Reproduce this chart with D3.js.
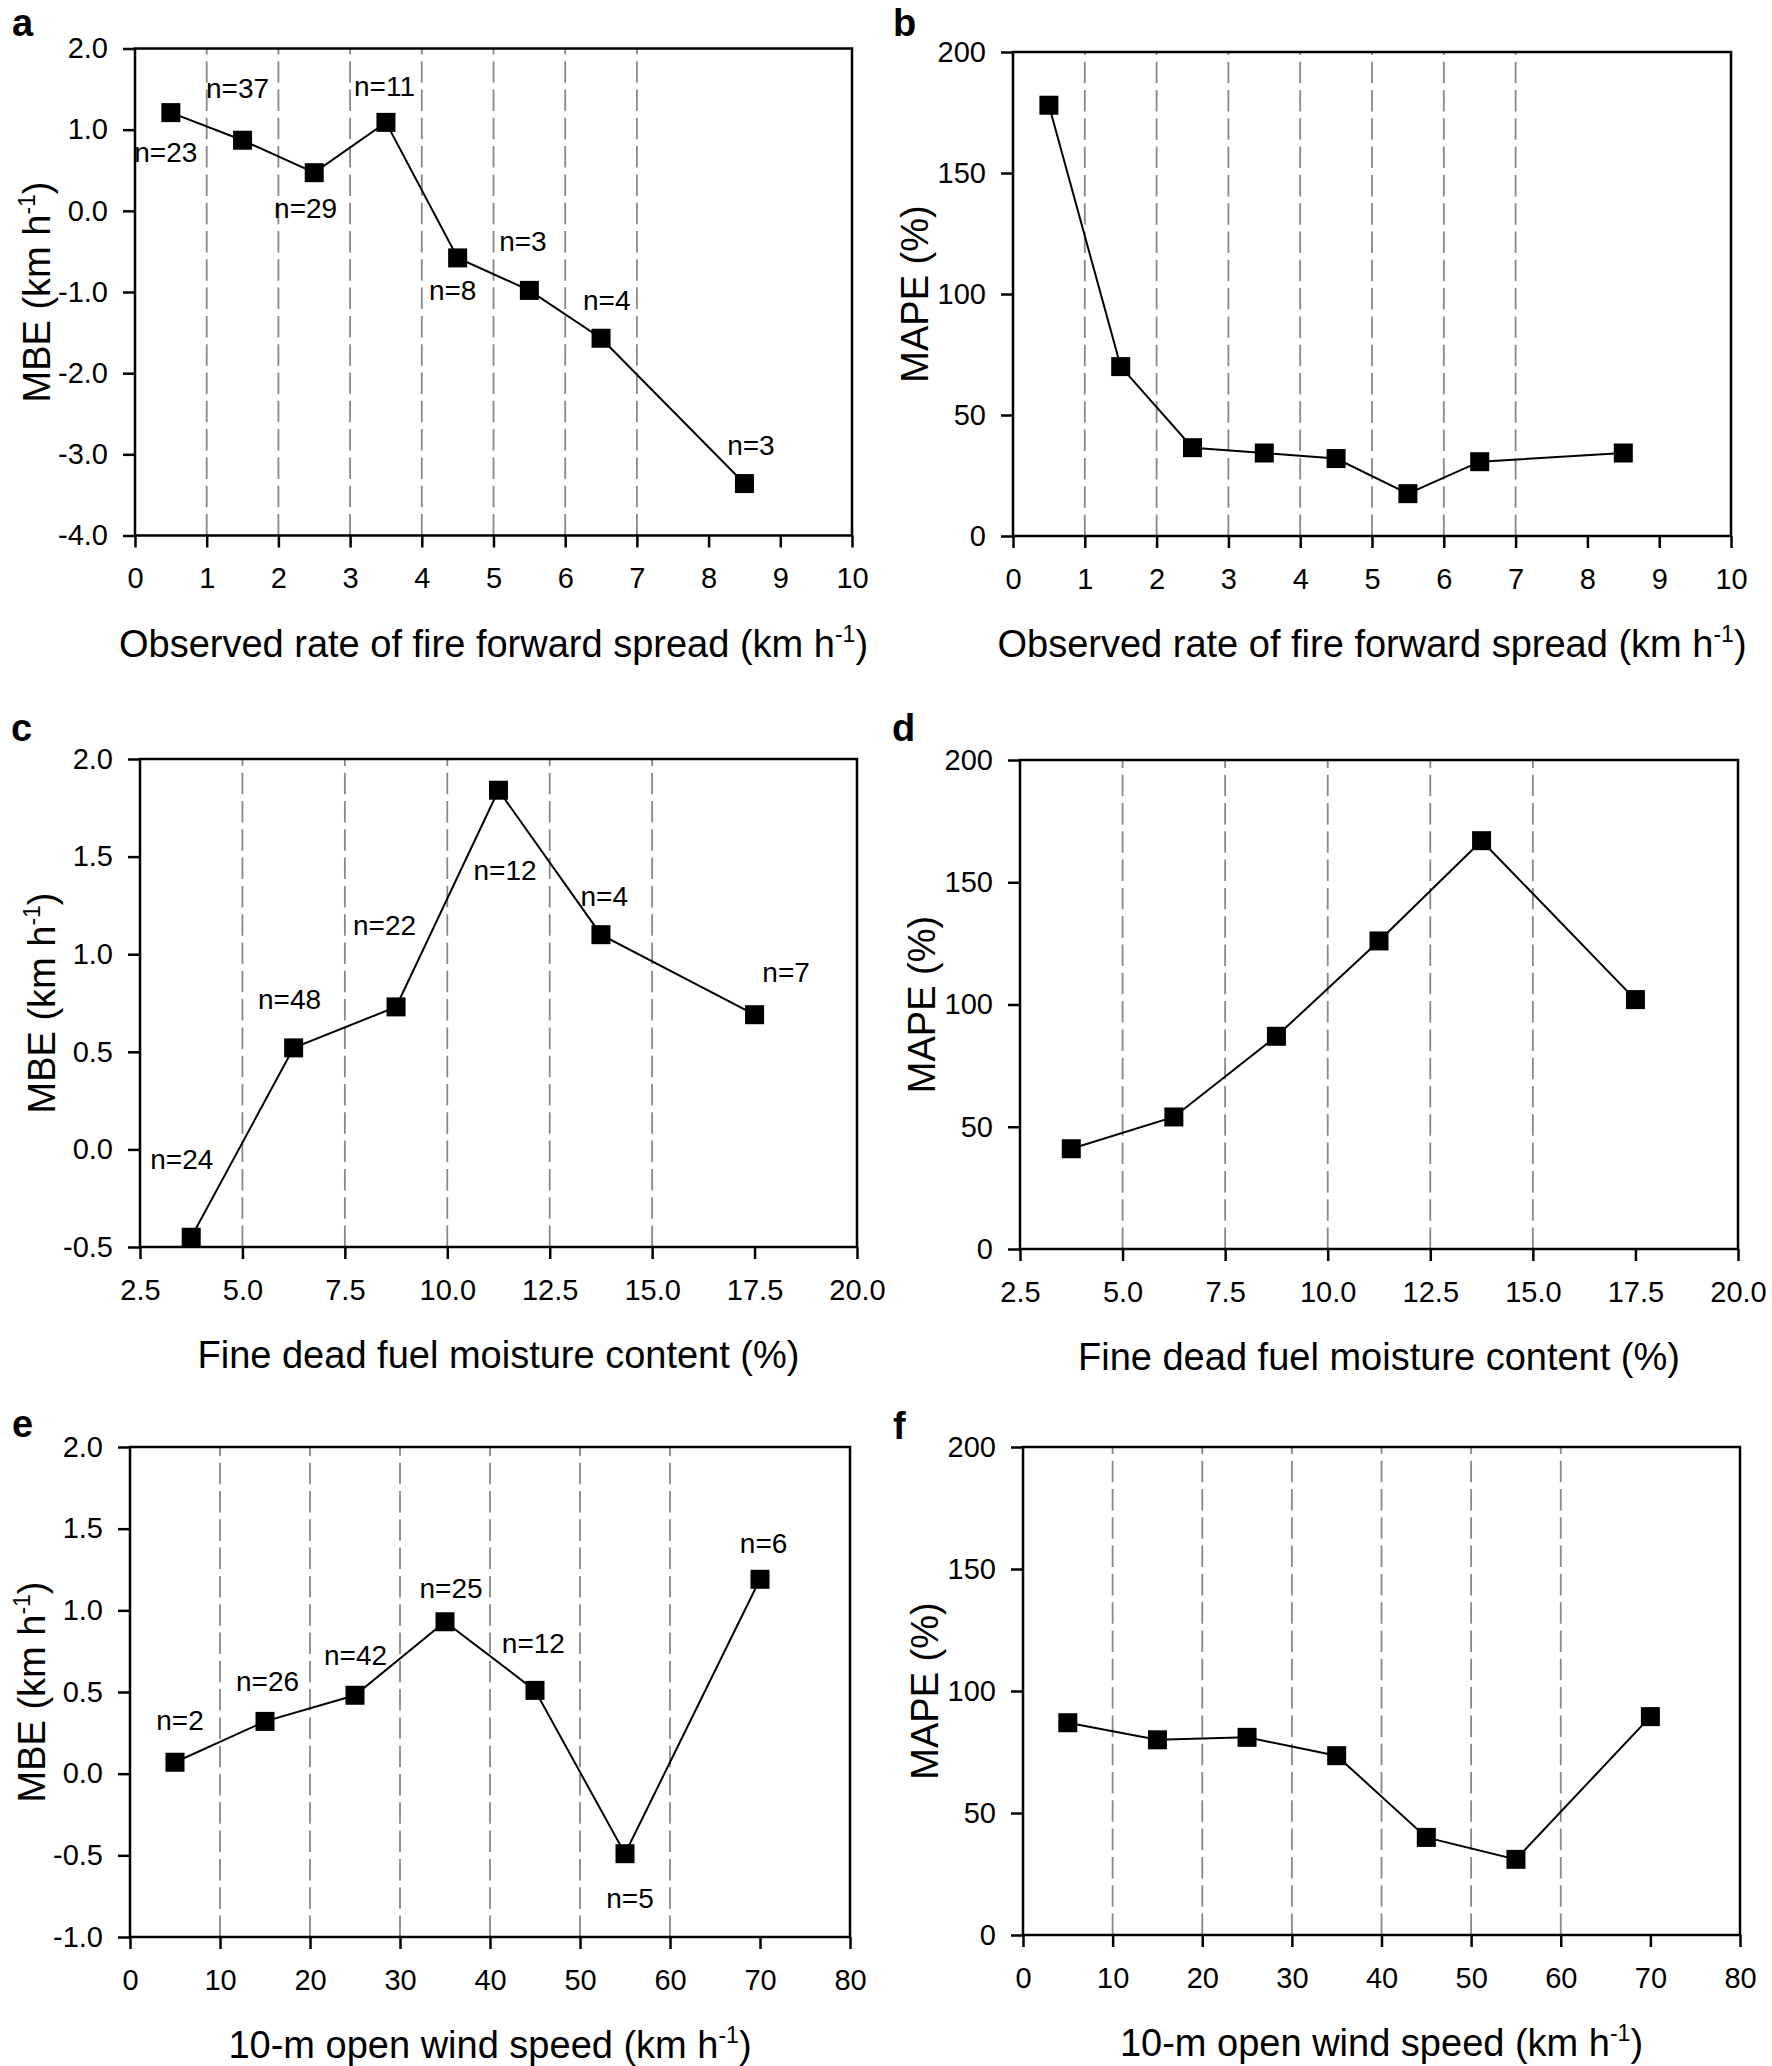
<!DOCTYPE html>
<html>
<head>
<meta charset="utf-8">
<script src="https://cdn.jsdelivr.net/npm/d3@7"></script>
<style>
  html, body { margin: 0; padding: 0; background: #fff; }
  svg { display: block; }
  text { font-family: "Liberation Sans", Arial, sans-serif; fill: #000; }
</style>
</head>
<body>
<svg id="chart" width="1772" height="2066"></svg>
<script>
// ---------------- DATA ----------------
// Observed rate of fire forward spread (km h-1) bins
const rosX    = [0.5, 1.5, 2.5, 3.5, 4.5, 5.5, 6.5, 8.5];
const rosMBE  = [1.21, 0.87, 0.47, 1.09, -0.58, -0.98, -1.57, -3.36];
const rosMAPE = [178, 70, 36.5, 34.3, 32, 17.5, 30.7, 34.3];
const rosN    = [23, 37, 29, 11, 8, 3, 4, 3];
// annotation anchors (data units) for the n= labels in panel a
const rosLabelX = [0.43, 1.43, 2.38, 3.48, 4.43, 5.41, 6.58, 8.59];
const rosLabelY = [0.72, 1.51, 0.04, 1.54, -0.98, -0.37, -1.10, -2.89];

// Fine dead fuel moisture content (%) bins
const fdfmcX    = [3.75, 6.25, 8.75, 11.25, 13.75, 17.5];
const fdfmcMBE  = [-0.45, 0.52, 0.73, 1.84, 1.10, 0.69];
const fdfmcMAPE = [41, 54, 87, 126, 167, 102];
const fdfmcN    = [24, 48, 22, 12, 4, 7];
const fdfmcLabelX = [3.52, 6.15, 8.47, 11.41, 13.83, 18.27];
const fdfmcLabelY = [-0.05, 0.77, 1.15, 1.43, 1.30, 0.91];

// 10-m open wind speed (km h-1) bins
const windX    = [5, 15, 25, 35, 45, 55, 70];
const windMBE  = [0.07, 0.32, 0.48, 0.93, 0.51, -0.49, 1.19];
const windMAPE = [87, 80, 81, 73.5, 40, 31, 89.5];
const windN    = [2, 26, 42, 25, 12, 5, 6];
const windLabelX = [5.56, 15.28, 25.06, 35.67, 44.82, 55.56, 70.4];
const windLabelY = [0.33, 0.57, 0.73, 1.14, 0.80, -0.76, 1.41];

// ticks and grid positions
const rosTicks    = [0, 1, 2, 3, 4, 5, 6, 7, 8, 9, 10];
const rosGrid     = [1, 2, 3, 4, 5, 6, 7];
const fdfmcTicks  = [2.5, 5, 7.5, 10, 12.5, 15, 17.5, 20];
const fdfmcGrid   = [5, 7.5, 10, 12.5, 15];
const windTicks   = [0, 10, 20, 30, 40, 50, 60, 70, 80];
const windGrid    = [10, 20, 30, 40, 50, 60];
const mbeTicksA   = [-4, -3, -2, -1, 0, 1, 2];
const mbeTicksC   = [-0.5, 0, 0.5, 1, 1.5, 2];
const mbeTicksE   = [-1, -0.5, 0, 0.5, 1, 1.5, 2];
const mapeTicks   = [0, 50, 100, 150, 200];

const xTitles = {
  ros: "Observed rate of fire forward spread (km h",
  fdfmc: "Fine dead fuel moisture content (%)",
  wind: "10-m open wind speed (km h"
};

// ---------------- LAYOUT ----------------
const layout = {
  a: {x0: 135,  x1: 852,  y0: 48.5, y1: 535.5, lx: 12,  ly: 36},
  b: {x0: 1013, x1: 1731, y0: 52,   y1: 536,   lx: 893, ly: 36},
  c: {x0: 140,  x1: 857,  y0: 759,  y1: 1247,  lx: 11,  ly: 741},
  d: {x0: 1020, x1: 1738, y0: 760,  y1: 1249,  lx: 892, ly: 741},
  e: {x0: 130,  x1: 850,  y0: 1447, y1: 1937,  lx: 12,  ly: 1437},
  f: {x0: 1023, x1: 1740, y0: 1447, y1: 1935,  lx: 893, ly: 1439}
};

const f1 = d => d.toFixed(1);
const f0 = d => String(d);

const panels = [
  {id: "a", xDom: [0, 10], yDom: [-4, 2], xs: rosX, ys: rosMBE, xt: rosTicks, yt: mbeTicksA, grid: rosGrid,
   xf: f0, yf: f1, xTitle: xTitles.ros, sup: true, yTitle: "MBE (km h", ySup: true,
   n: rosN, lx: rosLabelX, ly: rosLabelY},
  {id: "b", xDom: [0, 10], yDom: [0, 200], xs: rosX, ys: rosMAPE, xt: rosTicks, yt: mapeTicks, grid: rosGrid,
   xf: f0, yf: f0, xTitle: xTitles.ros, sup: true, yTitle: "MAPE (%)", ySup: false},
  {id: "c", xDom: [2.5, 20], yDom: [-0.5, 2], xs: fdfmcX, ys: fdfmcMBE, xt: fdfmcTicks, yt: mbeTicksC, grid: fdfmcGrid,
   xf: f1, yf: f1, xTitle: xTitles.fdfmc, sup: false, yTitle: "MBE (km h", ySup: true,
   n: fdfmcN, lx: fdfmcLabelX, ly: fdfmcLabelY},
  {id: "d", xDom: [2.5, 20], yDom: [0, 200], xs: fdfmcX, ys: fdfmcMAPE, xt: fdfmcTicks, yt: mapeTicks, grid: fdfmcGrid,
   xf: f1, yf: f0, xTitle: xTitles.fdfmc, sup: false, yTitle: "MAPE (%)", ySup: false},
  {id: "e", xDom: [0, 80], yDom: [-1, 2], xs: windX, ys: windMBE, xt: windTicks, yt: mbeTicksE, grid: windGrid,
   xf: f0, yf: f1, xTitle: xTitles.wind, sup: true, yTitle: "MBE (km h", ySup: true,
   n: windN, lx: windLabelX, ly: windLabelY},
  {id: "f", xDom: [0, 80], yDom: [0, 200], xs: windX, ys: windMAPE, xt: windTicks, yt: mapeTicks, grid: windGrid,
   xf: f0, yf: f0, xTitle: xTitles.wind, sup: true, yTitle: "MAPE (%)", ySup: false}
];

const svg = d3.select("#chart");
const TICK_FS = 29, N_FS = 28, TITLE_FS = 38, SUP_FS = 23, LETTER_FS = 38;
const MARK = 19;

panels.forEach(p => {
  const L = layout[p.id];
  const x = d3.scaleLinear().domain(p.xDom).range([L.x0, L.x1]);
  const y = d3.scaleLinear().domain(p.yDom).range([L.y1, L.y0]);
  const g = svg.append("g");

  // grid lines (drawn from bottom up so the dash pattern starts at the axis)
  g.selectAll(".grid").data(p.grid).join("line")
    .attr("x1", d => x(d)).attr("x2", d => x(d))
    .attr("y1", L.y1).attr("y2", L.y0)
    .attr("stroke", "#888").attr("stroke-width", 1.8)
    .attr("stroke-dasharray", "21.5,6.8");

  // axes
  const ax = g.append("g").attr("transform", `translate(0,${L.y1})`)
    .call(d3.axisBottom(x).tickValues(p.xt).tickFormat(p.xf).tickSize(12).tickSizeOuter(0).tickPadding(20));
  const ay = g.append("g").attr("transform", `translate(${L.x0},0)`)
    .call(d3.axisLeft(y).tickValues(p.yt).tickFormat(p.yf).tickSize(12).tickSizeOuter(0).tickPadding(15));
  [ax, ay].forEach(a => {
    a.select(".domain").remove();
    a.selectAll("line").attr("stroke", "#000").attr("stroke-width", 2.5);
    a.selectAll("text").attr("font-size", TICK_FS).attr("font-family", "Liberation Sans, Arial, sans-serif").attr("fill", "#000");
  });

  // frame
  g.append("rect").attr("x", L.x0).attr("y", L.y0)
    .attr("width", L.x1 - L.x0).attr("height", L.y1 - L.y0)
    .attr("fill", "none").attr("stroke", "#000").attr("stroke-width", 2.5);

  // line
  const pts = p.xs.map((v, i) => [v, p.ys[i]]);
  g.append("path").datum(pts)
    .attr("d", d3.line().x(d => x(d[0])).y(d => y(d[1])))
    .attr("fill", "none").attr("stroke", "#000").attr("stroke-width", 2);

  // markers
  g.selectAll(".mk").data(pts).join("rect")
    .attr("x", d => x(d[0]) - MARK / 2).attr("y", d => y(d[1]) - MARK / 2)
    .attr("width", MARK).attr("height", MARK).attr("fill", "#000");

  // n labels
  if (p.n) {
    g.selectAll(".nl").data(p.n).join("text")
      .attr("x", (d, i) => x(p.lx[i])).attr("y", (d, i) => y(p.ly[i]))
      .attr("text-anchor", "middle").attr("dy", "0.36em")
      .attr("font-size", N_FS)
      .text(d => "n=" + d);
  }

  // x title
  const xt = g.append("text")
    .attr("x", (L.x0 + L.x1) / 2).attr("y", L.y1 + 121)
    .attr("text-anchor", "middle").attr("font-size", TITLE_FS);
  xt.append("tspan").text(p.xTitle);
  if (p.sup) {
    xt.append("tspan").attr("dy", -15).attr("font-size", SUP_FS).text("-1");
    xt.append("tspan").attr("dy", 15).text(")");
  }

  // y title
  const yt = g.append("text")
    .attr("transform", `translate(${L.x0 - 85},${(L.y0 + L.y1) / 2}) rotate(-90)`)
    .attr("text-anchor", "middle").attr("font-size", TITLE_FS);
  yt.append("tspan").text(p.yTitle);
  if (p.ySup) {
    yt.append("tspan").attr("dy", -15).attr("font-size", SUP_FS).text("-1");
    yt.append("tspan").attr("dy", 15).text(")");
  }

  // panel letter
  g.append("text").attr("x", L.lx).attr("y", L.ly)
    .attr("font-size", LETTER_FS).attr("font-weight", "bold").text(p.id);
});
</script>
</body>
</html>
